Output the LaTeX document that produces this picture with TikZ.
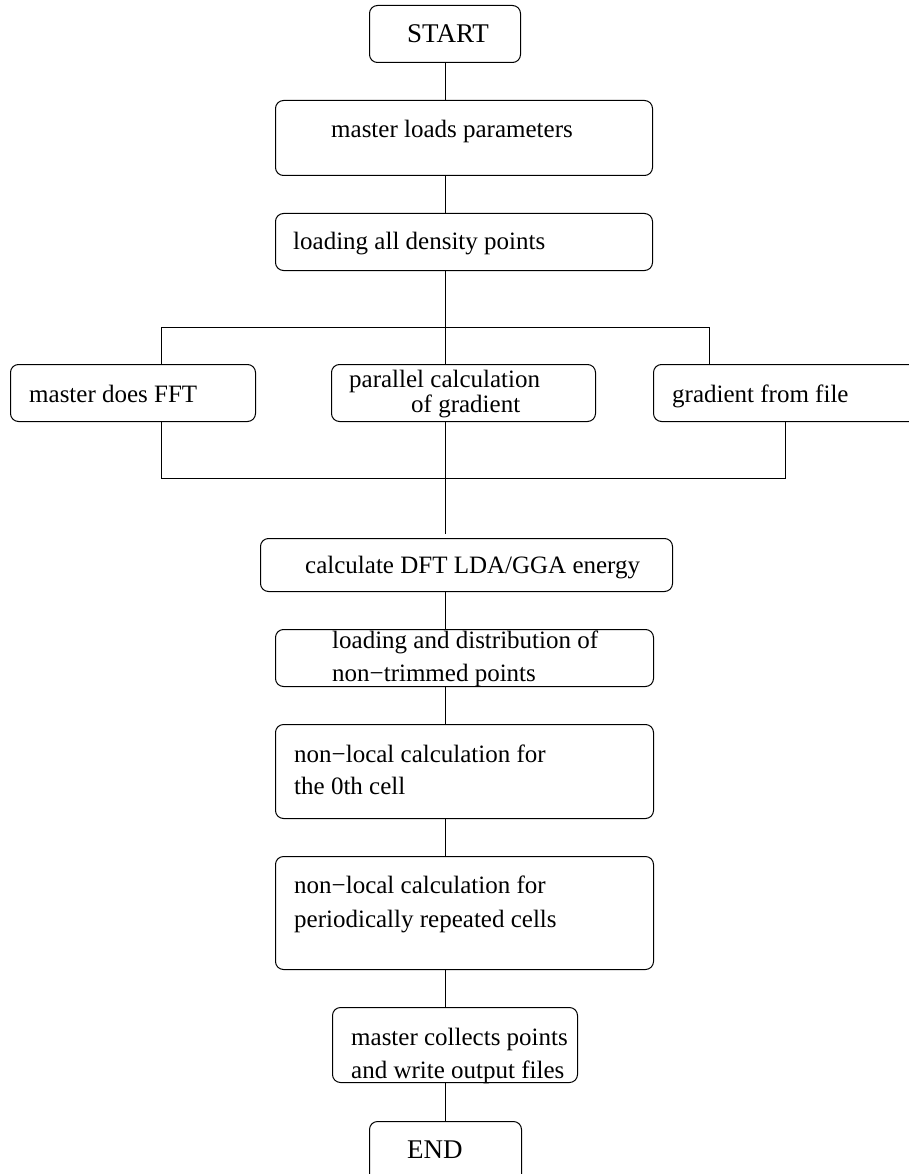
\documentclass[tikz,border=0pt]{standalone}
\usepackage{fontspec}
\setmainfont{Liberation Serif}
\tikzset{
  box/.style={draw, rounded corners=8pt, line width=1pt, inner sep=0pt, anchor=north west},
  lbl/.style={anchor=base west, inner sep=0pt, font=\fontsize{25}{30}\selectfont},
  big/.style={anchor=base west, inner sep=0pt, font=\fontsize{27}{32}\selectfont},
  conn/.style={draw, line width=1pt}
}
\begin{document}
\begin{tikzpicture}[x=1pt,y=-1pt]
\useasboundingbox (0,0) rectangle (908,1174);
% boxes
\node[box, minimum width=151pt, minimum height=57pt] (start) at (369,5) {};
\node[box, minimum width=377pt, minimum height=75pt] (params) at (275,100) {};
\node[box, minimum width=377pt, minimum height=57pt] (density) at (275,213) {};
\node[box, minimum width=245pt, minimum height=57pt] (fft) at (10,364) {};
\node[box, minimum width=264pt, minimum height=57pt] (par) at (331,364) {};
\node[box, minimum width=270pt, minimum height=57pt] (grad) at (653,364) {};
\node[box, minimum width=412pt, minimum height=53pt] (dft) at (260,538) {};
\node[box, minimum width=378pt, minimum height=57pt] (dist) at (275,629) {};
\node[box, minimum width=378pt, minimum height=94pt] (cell) at (275,724) {};
\node[box, minimum width=378pt, minimum height=113pt] (per) at (275,856) {};
\node[box, minimum width=245pt, minimum height=75pt] (coll) at (332,1007) {};
\node[box, minimum width=152pt, minimum height=70pt] (end) at (369,1121) {};
% labels
\node[big] (tstart) at (407,43) {START};
\node[lbl] (tparams) at (331,138) {master loads parameters};
\node[lbl] (tdensity) at (293,250) {loading all density points};
\node[lbl] (tfft) at (29,402) {master does FFT};
\node[lbl] (tpar1) at (349,387) {parallel calculation};
\node[lbl] (tpar2) at (411,412) {of gradient};
\node[lbl] (tgrad) at (672,402) {gradient from file};
\node[lbl] (tdft) at (305,573) {calculate DFT LDA/GGA energy};
\node[lbl] (tdist1) at (332,648) {loading and distribution of};
\node[lbl] (tdist2) at (332,681) {non−trimmed points};
\node[lbl] (tcell1) at (294,762) {non−local calculation for};
\node[lbl] (tcell2) at (294,794) {the 0th cell};
\node[lbl] (tper1) at (294,893) {non−local calculation for};
\node[lbl] (tper2) at (294,927) {periodically repeated cells};
\node[lbl] (tcoll1) at (351,1045) {master collects points};
\node[lbl] (tcoll2) at (351,1078) {and write output files};
\node[big] (tend) at (407,1158) {END};
% junction coordinates
\coordinate (splitC) at (445,327);
\coordinate (splitL) at (161,327);
\coordinate (splitR) at (709,327);
\coordinate (joinL) at (161,478);
\coordinate (joinR) at (785,478);
\coordinate (dfttop) at (445,534);
% connectors
\draw[conn] (start.south -| splitC) -- (params.north -| splitC);
\draw[conn] (params.south -| splitC) -- (density.north -| splitC);
\draw[conn] (density.south -| splitC) -- (par.north -| splitC);
\draw[conn] (splitL) -- (splitR);
\draw[conn] (splitL) -- (fft.north -| splitL);
\draw[conn] (splitR) -- (grad.north -| splitR);
\draw[conn] (par.south -| splitC) -- (dfttop);
\draw[conn] (fft.south -| joinL) -- (joinL) -- (joinR) -- (grad.south -| joinR);
\draw[conn] (dft.south -| splitC) -- (dist.north -| splitC);
\draw[conn] (dist.south -| splitC) -- (cell.north -| splitC);
\draw[conn] (cell.south -| splitC) -- (per.north -| splitC);
\draw[conn] (per.south -| splitC) -- (coll.north -| splitC);
\draw[conn] (coll.south -| splitC) -- (end.north -| splitC);
\end{tikzpicture}
\end{document}
